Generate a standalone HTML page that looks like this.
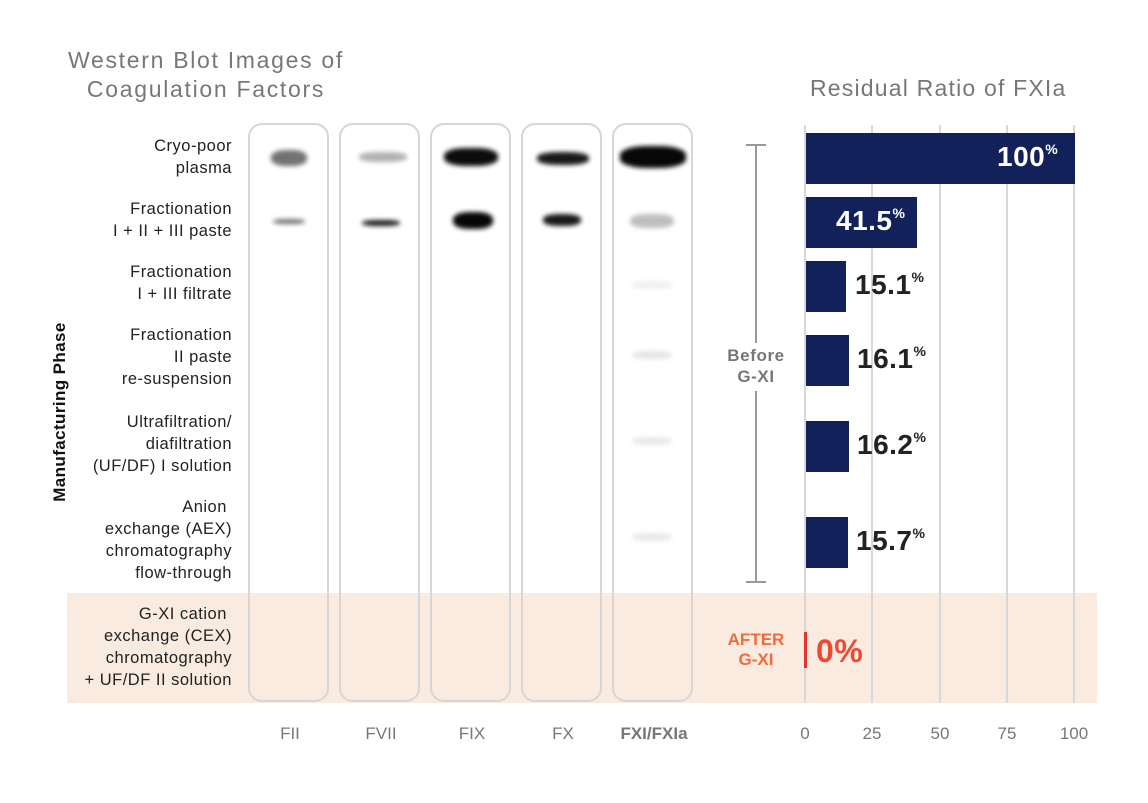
<!DOCTYPE html>
<html><head><style>
body{margin:0;width:1148px;height:803px;background:#fff;font-family:"Liberation Sans",sans-serif;position:relative;overflow:hidden}
.a{position:absolute}
.lane{position:absolute;top:123px;width:81px;height:579px;border:2px solid #d6d6d6;border-radius:14px;box-sizing:border-box}
.lbl{position:absolute;left:40px;width:192px;text-align:right;font-size:16.5px;line-height:22px;color:#222;letter-spacing:.5px}
.band{position:absolute;background:#000;border-radius:40%;filter:blur(2.5px)}
.grid{position:absolute;top:125px;width:2px;height:578px;background:#d8d8d8}
.bar{position:absolute;left:806px;height:51px;background:#13215a}
.val{position:absolute;font-weight:bold;font-size:28px;color:#222;letter-spacing:.5px}
.val sup{font-size:14px;vertical-align:12px}
.tick{position:absolute;top:724px;font-size:17px;color:#777;width:60px;text-align:center}
</style></head><body>
<div class="a" style="left:67px;top:593px;width:1030px;height:110px;background:#f9ebdf"></div>
<div class="a" style="left:56px;top:46px;font-size:23px;color:#777;line-height:29px;text-align:center;width:300px;letter-spacing:1.7px">Western Blot Images of<br>Coagulation Factors</div>
<div class="a" style="left:810px;top:75px;font-size:23px;color:#777;letter-spacing:1.2px">Residual Ratio of FXIa</div>
<div class="a" style="left:-50px;top:402px;transform:rotate(-90deg);font-weight:bold;font-size:17px;color:#111;width:220px;text-align:center;white-space:nowrap;letter-spacing:.4px">Manufacturing Phase</div>

<div class="lbl" style="top:135px">Cryo-poor<br>plasma</div>
<div class="lbl" style="top:198px">Fractionation<br>I + II + III paste</div>
<div class="lbl" style="top:261px">Fractionation<br>I + III filtrate</div>
<div class="lbl" style="top:324px">Fractionation<br>II paste<br>re-suspension</div>
<div class="lbl" style="top:411px">Ultrafiltration/<br>diafiltration<br>(UF/DF) I solution</div>
<div class="lbl" style="top:496px">Anion&nbsp;<br>exchange (AEX)<br>chromatography<br>flow-through</div>
<div class="lbl" style="top:603px">G-XI cation&nbsp;<br>exchange (CEX)<br>chromatography<br>+ UF/DF II solution</div>

<div class="lane" style="left:248px"></div>
<div class="lane" style="left:339px"></div>
<div class="lane" style="left:430px"></div>
<div class="lane" style="left:521px"></div>
<div class="lane" style="left:612px"></div>

<div class="band" style="left:271px;top:150px;width:36px;height:16px;opacity:.55"></div>
<div class="band" style="left:359px;top:152px;width:48px;height:10px;opacity:.3"></div>
<div class="band" style="left:444px;top:148px;width:54px;height:18px;opacity:.95"></div>
<div class="band" style="left:537px;top:152px;width:52px;height:13px;opacity:.9"></div>
<div class="band" style="left:620px;top:146px;width:66px;height:22px;opacity:.97"></div>
<div class="band" style="left:273px;top:219px;width:32px;height:5px;opacity:.55"></div>
<div class="band" style="left:362px;top:220px;width:38px;height:6px;opacity:.9"></div>
<div class="band" style="left:453px;top:212px;width:40px;height:17px;opacity:.97"></div>
<div class="band" style="left:543px;top:214px;width:38px;height:12px;opacity:.9"></div>
<div class="band" style="left:630px;top:214px;width:44px;height:14px;opacity:.25"></div>
<div class="band" style="left:632px;top:281px;width:40px;height:8px;opacity:.06"></div>
<div class="band" style="left:632px;top:351px;width:40px;height:8px;opacity:.1"></div>
<div class="band" style="left:632px;top:437px;width:40px;height:8px;opacity:.09"></div>
<div class="band" style="left:632px;top:533px;width:40px;height:8px;opacity:.09"></div>

<div class="a" style="left:755px;top:145px;width:2px;height:437px;background:#999"></div>
<div class="a" style="left:746px;top:144px;width:20px;height:2px;background:#999"></div>
<div class="a" style="left:746px;top:581px;width:20px;height:2px;background:#999"></div>
<div class="a" style="left:716px;top:343px;width:80px;height:48px;background:#fff"></div>
<div class="a" style="left:711px;top:345px;width:90px;text-align:center;font-weight:bold;font-size:17px;line-height:21px;color:#777;letter-spacing:.6px">Before<br>G-XI</div>
<div class="a" style="left:716px;top:630px;width:80px;text-align:center;font-weight:bold;font-size:17px;line-height:20px;color:#f26b3a">AFTER<br>G-XI</div>

<div class="grid" style="left:804px"></div>
<div class="grid" style="left:871px"></div>
<div class="grid" style="left:939px"></div>
<div class="grid" style="left:1006px"></div>
<div class="grid" style="left:1073px"></div>

<div class="bar" style="top:133px;width:269px"></div>
<div class="bar" style="top:197px;width:111px"></div>
<div class="bar" style="top:261px;width:40px"></div>
<div class="bar" style="top:335px;width:43px"></div>
<div class="bar" style="top:421px;width:43px"></div>
<div class="bar" style="top:517px;width:42px"></div>
<div class="a" style="left:804px;top:632px;width:3px;height:36px;background:#e8312f"></div>

<div class="val" style="left:997px;top:141px;color:#fff">100<sup>%</sup></div>
<div class="val" style="left:836px;top:205px;color:#fff">41.5<sup>%</sup></div>
<div class="val" style="left:855px;top:269px">15.1<sup>%</sup></div>
<div class="val" style="left:857px;top:343px">16.1<sup>%</sup></div>
<div class="val" style="left:857px;top:429px">16.2<sup>%</sup></div>
<div class="val" style="left:856px;top:525px">15.7<sup>%</sup></div>
<div class="val" style="left:816px;top:633px;font-size:32px;color:#ee4a33">0%</div>

<div class="tick" style="left:260px">FII</div>
<div class="tick" style="left:351px">FVII</div>
<div class="tick" style="left:442px">FIX</div>
<div class="tick" style="left:533px">FX</div>
<div class="tick" style="left:604px;width:100px;font-weight:bold">FXI/FXIa</div>
<div class="tick" style="left:775px">0</div>
<div class="tick" style="left:842px">25</div>
<div class="tick" style="left:910px">50</div>
<div class="tick" style="left:977px">75</div>
<div class="tick" style="left:1044px">100</div>
</body></html>
